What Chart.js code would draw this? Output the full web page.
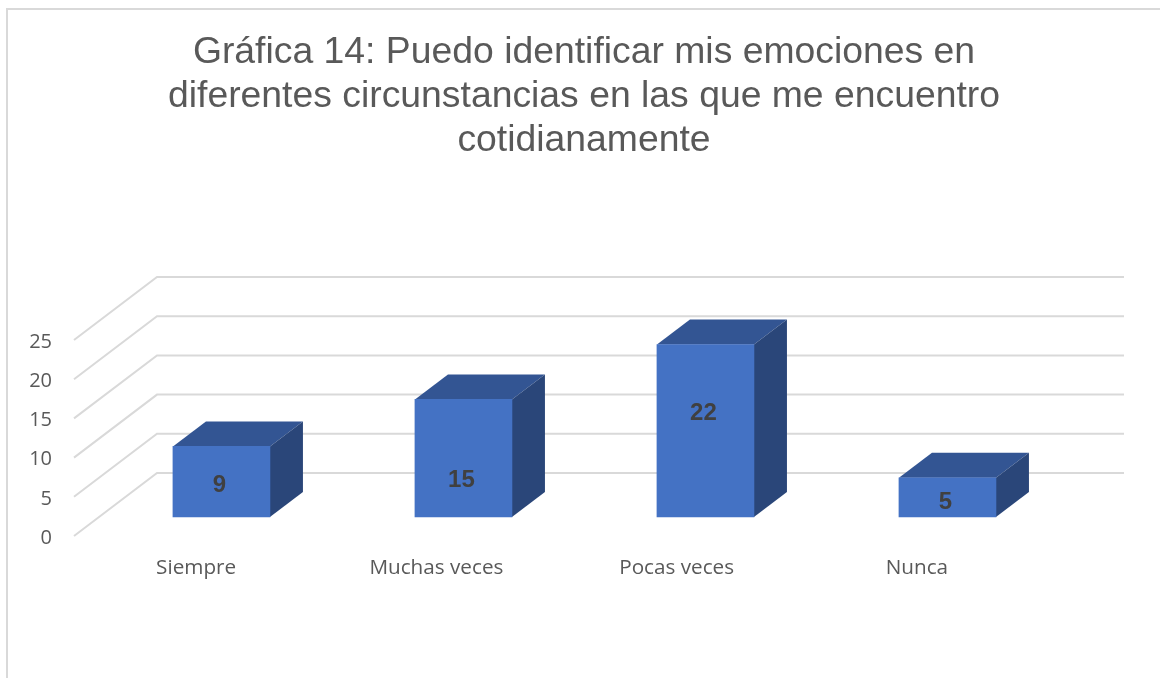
<!DOCTYPE html>
<html lang="es">
<head>
<meta charset="utf-8">
<title>Gráfica 14</title>
<style>
  html, body { margin: 0; padding: 0; background: #fff; }
  #wrap { position: relative; width: 1160px; height: 678px; overflow: hidden; }
  #frame { position: absolute; left: 6px; top: 8px; right: -4px; bottom: -4px; border-left: 2px solid #d9d9d9; border-top: 2px solid #d9d9d9; }
  canvas { position: absolute; left: 0; top: 0; }
</style>
<script src="https://cdn.jsdelivr.net/npm/chart.js@4"></script>
</head>
<body>
<div id="wrap">
  <div id="frame"></div>
  <canvas id="chart" width="1160" height="678"></canvas>
</div>
<script>
'use strict';

const TITLE_LINES = [
  'Gráfica 14: Puedo identificar mis emociones en',
  'diferentes circunstancias en las que me encuentro',
  'cotidianamente',
];
const CATEGORIES = ['Siempre', 'Muchas veces', 'Pocas veces', 'Nunca'];
const VALUES = [9, 15, 22, 5];
const TICK_VALUES = [0, 5, 10, 15, 20, 25];

// Colours of the box faces
const FRONT_COLOR = '#4472c4';
const TOP_COLOR = '#335593';
const SIDE_COLOR = '#2a4679';
const GRID_COLOR = '#d9d9d9';
const TEXT_COLOR = '#595959';

// Fake perspective, in pixels
const FLOOR_DX = 83;
const FLOOR_DY = 63;
const BOX_DX = 33;
const BOX_DY = 25;
const BACK_WALL_OVERHANG = 87;
const TICK_TEXT_DROP = 2; // tick text sits a little under the end of its line

// Vertical shift of each value label from the middle of its box
const LABEL_SHIFT = [4, 22, -17, 5];

function fillPoly(ctx, color, pts) {
  ctx.fillStyle = color;
  ctx.beginPath();
  pts.forEach(([x, y], i) => (i ? ctx.lineTo(x, y) : ctx.moveTo(x, y)));
  ctx.closePath();
  ctx.fill();
}

// Floor/wall lines and the top and side faces of the boxes
const fakeDepth = {
  id: 'fakeDepth',
  beforeDatasetsDraw(chart) {
    const { ctx, chartArea, scales } = chart;
    const x0 = chartArea.left - 2;
    const backRight = chartArea.right + BACK_WALL_OVERHANG;

    ctx.save();
    ctx.strokeStyle = GRID_COLOR;
    ctx.lineWidth = 2;
    TICK_VALUES.forEach(v => {
      const y = scales.y.getPixelForValue(v) - TICK_TEXT_DROP;
      ctx.beginPath();
      ctx.moveTo(x0, y);
      ctx.lineTo(x0 + FLOOR_DX, y - FLOOR_DY);
      ctx.lineTo(backRight, y - FLOOR_DY);
      ctx.stroke();
    });

    chart.getDatasetMeta(0).data.forEach(bar => {
      const left = bar.x - bar.width / 2;
      const right = bar.x + bar.width / 2;
      fillPoly(ctx, TOP_COLOR, [
        [left, bar.y],
        [left + BOX_DX, bar.y - BOX_DY],
        [right + BOX_DX, bar.y - BOX_DY],
        [right, bar.y],
      ]);
      fillPoly(ctx, SIDE_COLOR, [
        [right, bar.y],
        [right + BOX_DX, bar.y - BOX_DY],
        [right + BOX_DX, bar.base - BOX_DY],
        [right, bar.base],
      ]);
    });
    ctx.restore();
  },
  afterDatasetsDraw(chart) {
    const { ctx } = chart;
    ctx.save();
    ctx.fillStyle = '#404040';
    ctx.font = 'bold 24px "Liberation Sans", Arial, sans-serif';
    ctx.textAlign = 'center';
    ctx.textBaseline = 'middle';
    chart.getDatasetMeta(0).data.forEach((bar, i) => {
      const mid = (bar.y + bar.base) / 2;
      ctx.fillText(String(VALUES[i]), bar.x - 2, mid + LABEL_SHIFT[i]);
    });
    ctx.restore();
  },
};

new Chart(document.getElementById('chart').getContext('2d'), {
  type: 'bar',
  data: {
    labels: CATEGORIES,
    datasets: [{
      data: VALUES.map((v, i) => ({ x: i, y: v })),
      xAxisID: 'xBox',
      yAxisID: 'yBox',
      backgroundColor: FRONT_COLOR,
      borderWidth: 0,
      barThickness: 97,
    }],
  },
  options: {
    responsive: false,
    animation: false,
    layout: { padding: { left: 8, right: 0, top: 0, bottom: 0 } },
    plugins: {
      legend: { display: false },
      tooltip: { enabled: false },
      title: {
        display: true,
        text: TITLE_LINES,
        color: TEXT_COLOR,
        font: { family: '"Liberation Sans", Arial, sans-serif', size: 37.33, weight: 'normal', lineHeight: 44 / 37.33 },
        padding: { top: 31, bottom: 179 },
      },
    },
    scales: {
      // Axis that carries the printed labels: the front edge of the floor
      x: {
        type: 'category',
        position: 'bottom',
        grid: { display: false },
        border: { display: false },
        ticks: {
          color: TEXT_COLOR,
          font: { family: '"Open Sans", sans-serif', size: 20.7 },
          padding: 10,
          maxRotation: 0,
          minRotation: 0,
        },
        afterFit(scale) { scale.height = 140; },
      },
      y: {
        type: 'linear',
        position: 'left',
        min: 0,
        max: 25,
        grid: { display: false },
        border: { display: false },
        ticks: {
          stepSize: 5,
          color: TEXT_COLOR,
          font: { family: '"Open Sans", sans-serif', size: 20 },
          padding: 16,
        },
        afterFit(scale) { scale.width = 68; },
      },
      // Boxes stand further back on the floor, so they get their own scales
      xBox: {
        type: 'linear',
        display: false,
        offset: false,
        min: -0.601,
        max: 3.37,
      },
      yBox: {
        type: 'linear',
        position: 'right',
        min: -2.68,
        max: 22.32,
        grid: { display: false },
        border: { display: false },
        ticks: { display: false },
        afterFit(scale) { scale.width = 123; },
      },
    },
  },
  plugins: [fakeDepth],
});
</script>
</body>
</html>
